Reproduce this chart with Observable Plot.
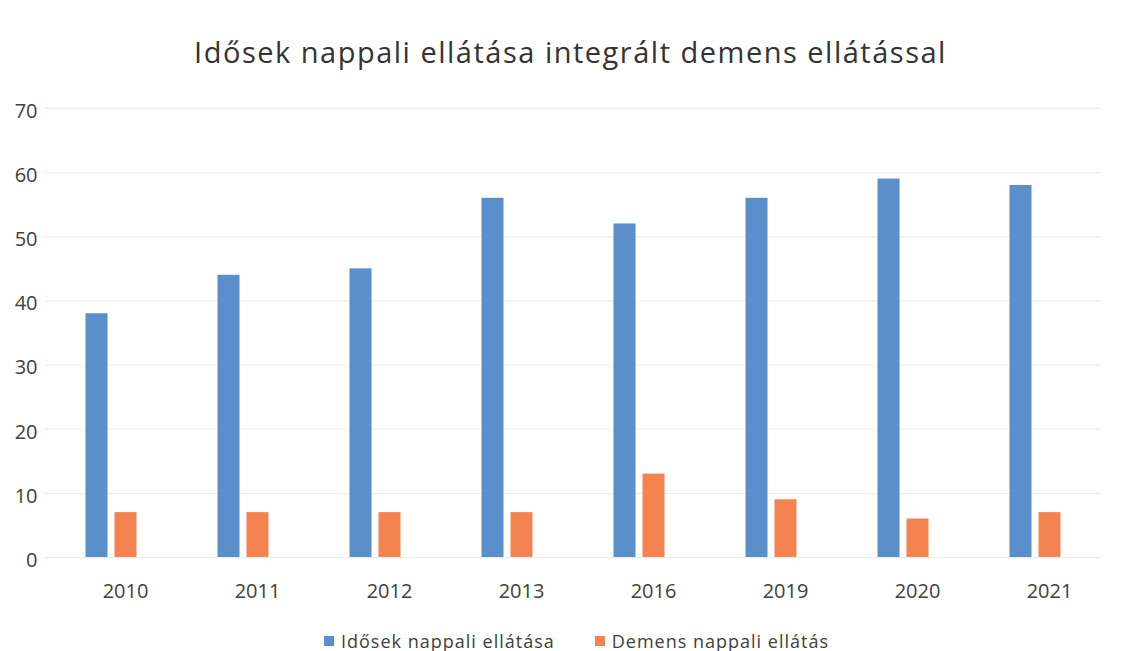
<!DOCTYPE html>
<html>
<head>
<meta charset="utf-8">
<script src="https://cdn.jsdelivr.net/npm/d3@7"></script>
<script src="https://cdn.jsdelivr.net/npm/@observablehq/plot@0.6"></script>
<style>
  html, body { margin: 0; padding: 0; background: #fff; }
  body { width: 1131px; height: 651px; overflow: hidden; font-family: "Open Sans", sans-serif; color: #404040; }
  #title { height: 80px; box-sizing: border-box; padding-top: 32px; text-align: center; font-size: 29px; letter-spacing: 1.5px; line-height: 40px; color: #333; padding-left: 10px; }
  #chart { height: 530px; }
  #legend { height: 41px; display: flex; justify-content: center; align-items: center; gap: 40px; font-size: 18px; letter-spacing: 1px; padding-top: 20px; box-sizing: border-box; color: #404040; padding-left: 22px; }
  .item { display: flex; align-items: center; gap: 7px; }
  .sw { width: 10px; height: 10px; display: inline-block; }
</style>
</head>
<body>
<div id="title">Idősek nappali ellátása integrált demens ellátással</div>
<div id="chart"></div>
<div id="legend"></div>
<script>
const years = ["2010", "2011", "2012", "2013", "2016", "2019", "2020", "2021"];
const seriesNames = ["Idősek nappali ellátása", "Demens nappali ellátás"];
const idosek = [38, 44, 45, 56, 52, 56, 59, 58];
const demens = [7, 7, 7, 7, 13, 9, 6, 7];
const colors = ["#5b8fcc", "#f5834f"];
const yTicks = [0, 10, 20, 30, 40, 50, 60, 70];

const rows = [];
years.forEach((yr, i) => {
  rows.push({year: yr, series: seriesNames[0], value: idosek[i]});
  rows.push({year: yr, series: seriesNames[1], value: demens[i]});
});

const plot = Plot.plot({
  width: 1131,
  height: 530,
  marginTop: 28,
  marginBottom: 53,
  marginLeft: 43.5,
  marginRight: 29.5,
  style: {fontFamily: "'Open Sans', sans-serif", fontSize: "20px", color: "#404040", background: "#fff"},
  fx: {domain: years, padding: 0, label: null},
  x: {domain: seriesNames, axis: null, paddingInner: 0.233, paddingOuter: 1.32},
  y: {domain: [0, 70], ticks: yTicks, label: null},
  color: {domain: seriesNames, range: colors},
  marks: [
    Plot.gridY(yTicks, {stroke: "#d9d9d9", strokeOpacity: 0.55}),
    Plot.axisY(yTicks, {anchor: "left", tickSize: 0, tickPadding: 8, label: null, fontSize: 20, dy: 3}),
    Plot.axisFx({anchor: "bottom", tickSize: 0, tickPadding: 26, label: null, fontSize: 20, dx: 14}),
    Plot.barY(rows, {fx: "year", x: "series", y: "value", fill: "series"})
  ]
});
document.getElementById("chart").appendChild(plot);

const legend = document.getElementById("legend");
seriesNames.forEach((name, i) => {
  const item = document.createElement("span");
  item.className = "item";
  const sw = document.createElement("span");
  sw.className = "sw";
  sw.style.background = colors[i];
  const t = document.createElement("span");
  t.textContent = name;
  item.appendChild(sw);
  item.appendChild(t);
  legend.appendChild(item);
});
</script>
</body>
</html>
